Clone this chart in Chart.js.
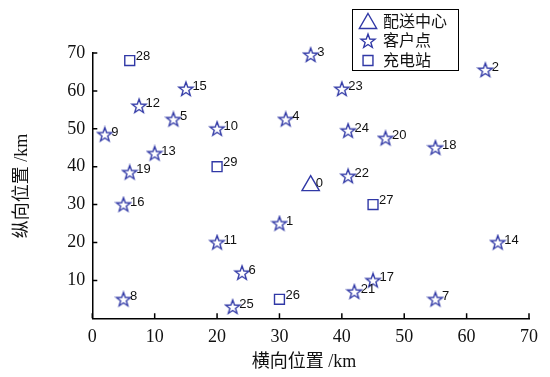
<!DOCTYPE html>
<html><head><meta charset="utf-8">
<script src="https://cdn.jsdelivr.net/npm/chart.js@4/dist/chart.umd.min.js"></script>
<style>html,body{margin:0;padding:0;background:#fff}#wrap{width:550px;height:377px}</style>
</head><body><div id="wrap"><canvas id="c" width="550" height="377"></canvas></div>
<script>
// ---- data ----
const seriesNames = ['配送中心', '客户点', '充电站'];
const depotIds = ['0'];
const depotX = [35];
const depotY = [35];
const customerIds = ['1','2','3','4','5','6','7','8','9','10','11','12','13','14','15','16','17','18','19','20','21','22','23','24','25'];
const customerX = [30, 63, 35, 31, 13, 24, 55, 5, 2, 20, 20, 7.5, 10, 65, 15, 5, 45, 55, 6, 47, 42, 41, 40, 41, 22.5];
const customerY = [25, 65.5, 69.5, 52.5, 52.5, 12, 5, 5, 48.5, 50, 20, 56, 43.5, 20, 60.5, 30, 10, 45, 38.5, 47.5, 7, 37.5, 60.5, 49.5, 3];
const stationIds = ['26','27','28','29'];
const stationX = [30, 45, 6, 20];
const stationY = [5, 30, 68, 40];
const xTicks = [0, 10, 20, 30, 40, 50, 60, 70];
const yTicks = [10, 20, 30, 40, 50, 60, 70];
const xTitle = '横向位置 /km';
const yTitle = '纵向位置 /km';

const BLUE = '#3038a6';
function makeStar(outer, inner, color, lw){
  const s = 18;
  const c = document.createElement('canvas'); c.width = s; c.height = s;
  const g = c.getContext('2d'); g.strokeStyle = color; g.lineWidth = lw; g.lineJoin = 'miter';
  g.beginPath();
  for (let i = 0; i < 10; i++) {
    const r = i % 2 ? inner : outer;
    const a = -Math.PI/2 + i*Math.PI/5;
    const px = s/2 + r*Math.cos(a), py = s/2 + 0.5 + r*Math.sin(a);
    if (i) g.lineTo(px, py); else g.moveTo(px, py);
  }
  g.closePath(); g.stroke();
  return c;
}
const starImg = makeStar(7.4, 3.0, BLUE, 1.35);

const zip = (xs, ys) => xs.map((x, i) => ({x, y: ys[i]}));
const FONT_SERIF = 'Liberation Serif';
const FONT_CJK = '"Liberation Serif", "Noto Sans CJK SC"';

const decor = {
  id: 'decor',
  afterDatasetsDraw(chart) {
    const ctx = chart.ctx;
    const xs = chart.scales.x, ys = chart.scales.y;
    const ca = chart.chartArea;
    ctx.save();
    // inward ticks
    ctx.strokeStyle = '#000'; ctx.lineWidth = 1.5;
    ctx.beginPath();
    xTicks.forEach(v => { const px = xs.getPixelForValue(v); ctx.moveTo(px, ca.bottom); ctx.lineTo(px, ca.bottom - 5); });
    yTicks.forEach(v => { const py = ys.getPixelForValue(v); ctx.moveTo(ca.left, py); ctx.lineTo(ca.left + 5, py); });
    ctx.stroke();
    // point labels
    ctx.fillStyle = '#111';
    ctx.font = '13px "Liberation Sans", Arial, sans-serif';
    ctx.textAlign = 'left'; ctx.textBaseline = 'middle';
    const idLists = [depotIds, customerIds, stationIds];
    const offs = [[5, -2], [6.5, -2.5], [6, -4]];
    chart.data.datasets.forEach((ds, di) => {
      const meta = chart.getDatasetMeta(di);
      meta.data.forEach((el, i) => {
        ctx.fillText(idLists[di][i], el.x + offs[di][0], el.y + offs[di][1]);
      });
    });
    // axis titles
    ctx.fillStyle = '#111';
    ctx.font = '18px ' + FONT_CJK;
    ctx.textAlign = 'center'; ctx.textBaseline = 'middle';
    ctx.fillText(xTitle, 304, 362);
    ctx.save();
    ctx.translate(22, 186);
    ctx.rotate(-Math.PI / 2);
    ctx.fillText(yTitle, 0, 0);
    ctx.restore();
    // legend
    const lx = 352, ly = 9, lw = 106, lh = 61;
    ctx.fillStyle = '#fff'; ctx.fillRect(lx, ly, lw, lh);
    ctx.strokeStyle = '#000'; ctx.lineWidth = 1; ctx.strokeRect(lx + 0.5, ly + 0.5, lw, lh);
    const rows = [21.5, 41, 60.5];
    ctx.textAlign = 'left';
    chart.data.datasets.forEach((ds, di) => {
      const cy = rows[di], cx = 368;
      const st = ds.pointStyle;
      if (st instanceof HTMLCanvasElement) {
        ctx.drawImage(st, cx - st.width/2, cy - st.height/2);
      } else {
        ctx.fillStyle = 'rgba(0,0,0,0)';
        ctx.strokeStyle = BLUE; ctx.lineWidth = ds.borderWidth;
        Chart.helpers.drawPoint(ctx, {pointStyle: st, radius: ds.pointRadius, borderWidth: ds.borderWidth, rotation: 0}, cx, di === 0 ? cy + 2 : cy);
      }
      ctx.fillStyle = '#111';
      ctx.font = '16px ' + FONT_CJK;
      ctx.fillText(ds.label, 383, cy + 1);
    });
    ctx.restore();
  }
};

new Chart(document.getElementById('c'), {
  type: 'scatter',
  data: {
    datasets: [
      { label: seriesNames[0], data: zip(depotX, depotY), pointStyle: 'triangle', pointRadius: 10, pointHoverRadius: 10, borderColor: BLUE, backgroundColor: 'rgba(0,0,0,0)', borderWidth: 1.4, clip: false },
      { label: seriesNames[1], data: zip(customerX, customerY), pointStyle: starImg, pointRadius: 8, borderColor: BLUE, backgroundColor: 'rgba(0,0,0,0)', borderWidth: 1.35, clip: false },
      { label: seriesNames[2], data: zip(stationX, stationY), pointStyle: 'rect', pointRadius: 7, pointHoverRadius: 7, borderColor: BLUE, backgroundColor: 'rgba(0,0,0,0)', borderWidth: 1.4, clip: false }
    ]
  },
  options: {
    responsive: false,
    animation: false,
    events: [],
    layout: { padding: { top: 53, right: 21, left: 0, bottom: 0 } },
    plugins: { legend: { display: false }, tooltip: { enabled: false } },
    scales: {
      x: {
        type: 'linear', min: 0, max: 70,
        afterBuildTicks: s => { s.ticks = xTicks.map(v => ({value: v})); },
        afterFit: s => { s.height = 58.7; },
        grid: { display: false, drawTicks: false },
        border: { display: true, color: '#000', width: 1.5 },
        ticks: { color: '#111', font: { family: FONT_SERIF, size: 18 }, padding: 8 }
      },
      y: {
        type: 'linear', min: 0, max: 70,
        afterBuildTicks: s => { s.ticks = yTicks.map(v => ({value: v})); },
        afterFit: s => { s.width = 92.3; },
        grid: { display: false, drawTicks: false },
        border: { display: true, color: '#000', width: 1.5 },
        ticks: { color: '#111', font: { family: FONT_SERIF, size: 18 }, padding: 7 }
      }
    }
  },
  plugins: [decor]
});
</script>
</body></html>
